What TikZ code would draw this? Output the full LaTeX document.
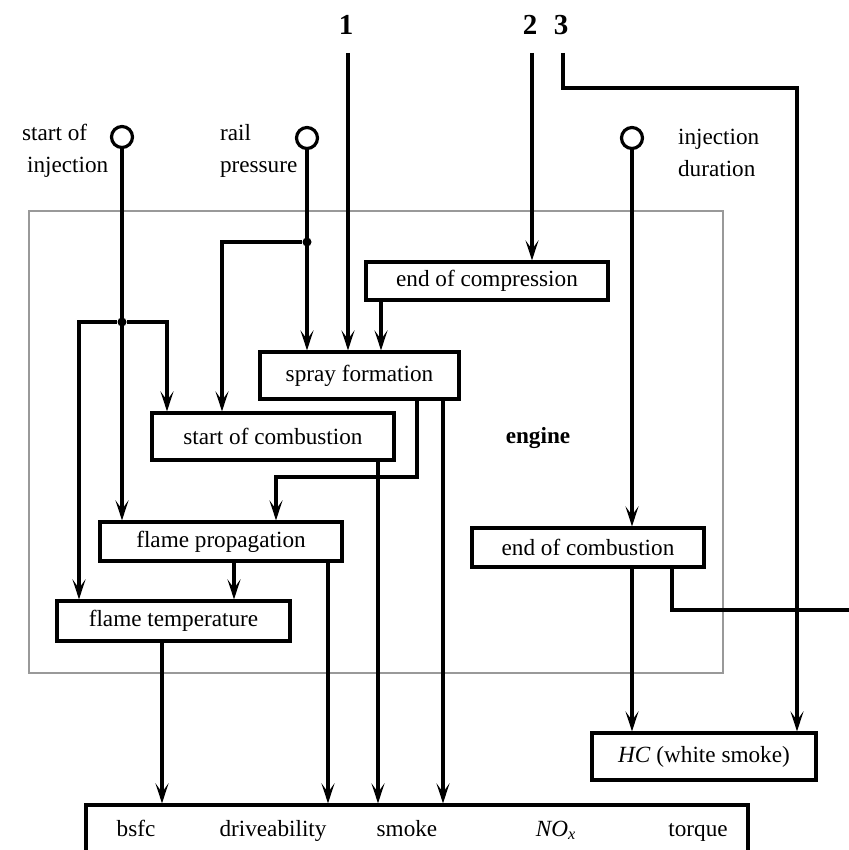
\documentclass[tikz,border=0pt]{standalone}
\usepackage{fontspec}
\setmainfont{Liberation Serif}
\usetikzlibrary{arrows.meta}

\tikzset{
  box/.style={draw, line width=1.6pt, inner sep=0pt},
  inp/.style={circle, draw, line width=1.6pt, minimum size=10.5pt, inner sep=0pt},
  wire/.style={line width=1.6pt},
  arr/.style={line width=1.6pt, -{Stealth[length=10pt,width=6.5pt,inset=4.5pt]}},
  num/.style={font=\fontsize{14.5}{16}\selectfont\bfseries},
  jdot/.style={circle, fill, inner sep=0pt, minimum size=4.5pt},
  res/.style={anchor=base},
}

\begin{document}
\begin{tikzpicture}[x=0.5pt, y=-0.5pt, font=\fontsize{11.6}{16}\selectfont]
\clip (0,0) rectangle (849,850);
%\draw[help lines, step=50] (0,0) grid (849,850);
\draw[gray!80, line width=0.8pt] (29,211) rectangle (723,673); % engine
\node[font=\fontsize{11.6}{16}\selectfont\bfseries] (eng) at (538,438) {engine};

% inputs
\node[num] (n1) at (346,25) {1};
\node[num] (n2) at (530,25) {2};
\node[num] (n3) at (561,25) {3};
\coordinate (c1) at (348,53);
\coordinate (c2) at (532,53);
\coordinate (c3) at (563,53);
\node[inp] (soi) at (122,137) {};
\node[inp] (rp) at (307,138) {};
\node[inp] (id) at (632,138) {};
\node[align=left, anchor=west] (soit) at (15,151) {start of\\\hspace{2.5pt}injection};
\node[align=left, anchor=west] (rpt) at (213,151) {rail\\pressure};
\node[align=left, anchor=west] (idt) at (671,153) {injection\\duration};

% blocks
\node[box, minimum width=121pt, minimum height=19pt] (eoc) at (487,281) {end of compression};
\node[box, minimum width=99.5pt, minimum height=23.5pt] (sf) at (359.5,375.5) {spray formation};
\node[box, minimum width=121pt, minimum height=23.5pt] (soc) at (273,436.5) {start of combustion};
\node[box, minimum width=121pt, minimum height=19.5pt] (fp) at (221,541.5) {flame propagation};
\node[box, minimum width=116.5pt, minimum height=20pt] (ft) at (173.5,621) {flame temperature};
\node[box, minimum width=116pt, minimum height=19.5pt] (ecb) at (588,547.5) {end of combustion};
\node[box, minimum width=112pt, minimum height=23.5pt] (hc) at (704,756.5) {\textit{HC} (white smoke)};

% outputs
\node[box, minimum width=331pt, minimum height=35pt] (out) at (417,840) {};
\node[res] (bsfc) at (136,836) {bsfc};
\node[res] (drv) at (273,836) {driveability};
\node[res] (smk) at (407,836) {smoke};
\node[res] (nox) at (556,836) {\textit{NO}\textsubscript{\textit{x}}};
\node[res] (trq) at (698,836) {torque};

% connections
\node[jdot] (j1) at (122,322) {};
\node[jdot] (j2) at (307,242) {};
\draw[arr] (soi) -- (soi |- fp.north);
\draw[arr] (j1) -| (79,0 |- ft.north);
\draw[arr] (j1) -| (167,0 |- soc.north);
\draw[arr] (rp) -- (rp |- sf.north);
\draw[arr] (j2) -| (222,0 |- soc.north);
\draw[arr] (c1) -- (c1 |- sf.north);
\draw[arr] (c2) -- (c2 |- eoc.north);
\draw[arr] (c3) |- (797,88) -- (797,0 |- hc.north);
\draw[arr] (381,0 |- eoc.south) -- (381,0 |- sf.north);
\draw[arr] (417,0 |- sf.south) -- (417,477) -| (276,0 |- fp.north);
\draw[arr] (443,0 |- sf.south) -- (443,0 |- out.north);
\draw[arr] (378,0 |- soc.south) -- (378,0 |- out.north);
\draw[arr] (234,0 |- fp.south) -- (234,0 |- ft.north);
\draw[arr] (328,0 |- fp.south) -- (328,0 |- out.north);
\draw[arr] (162,0 |- ft.south) -- (162,0 |- out.north);
\draw[arr] (id) -- (id |- ecb.north);
\draw[arr] (id |- ecb.south) -- (id |- hc.north);
\coordinate (off) at (870,610);
\draw[wire] (672,0 |- ecb.south) |- (off);
\end{tikzpicture}
\end{document}
